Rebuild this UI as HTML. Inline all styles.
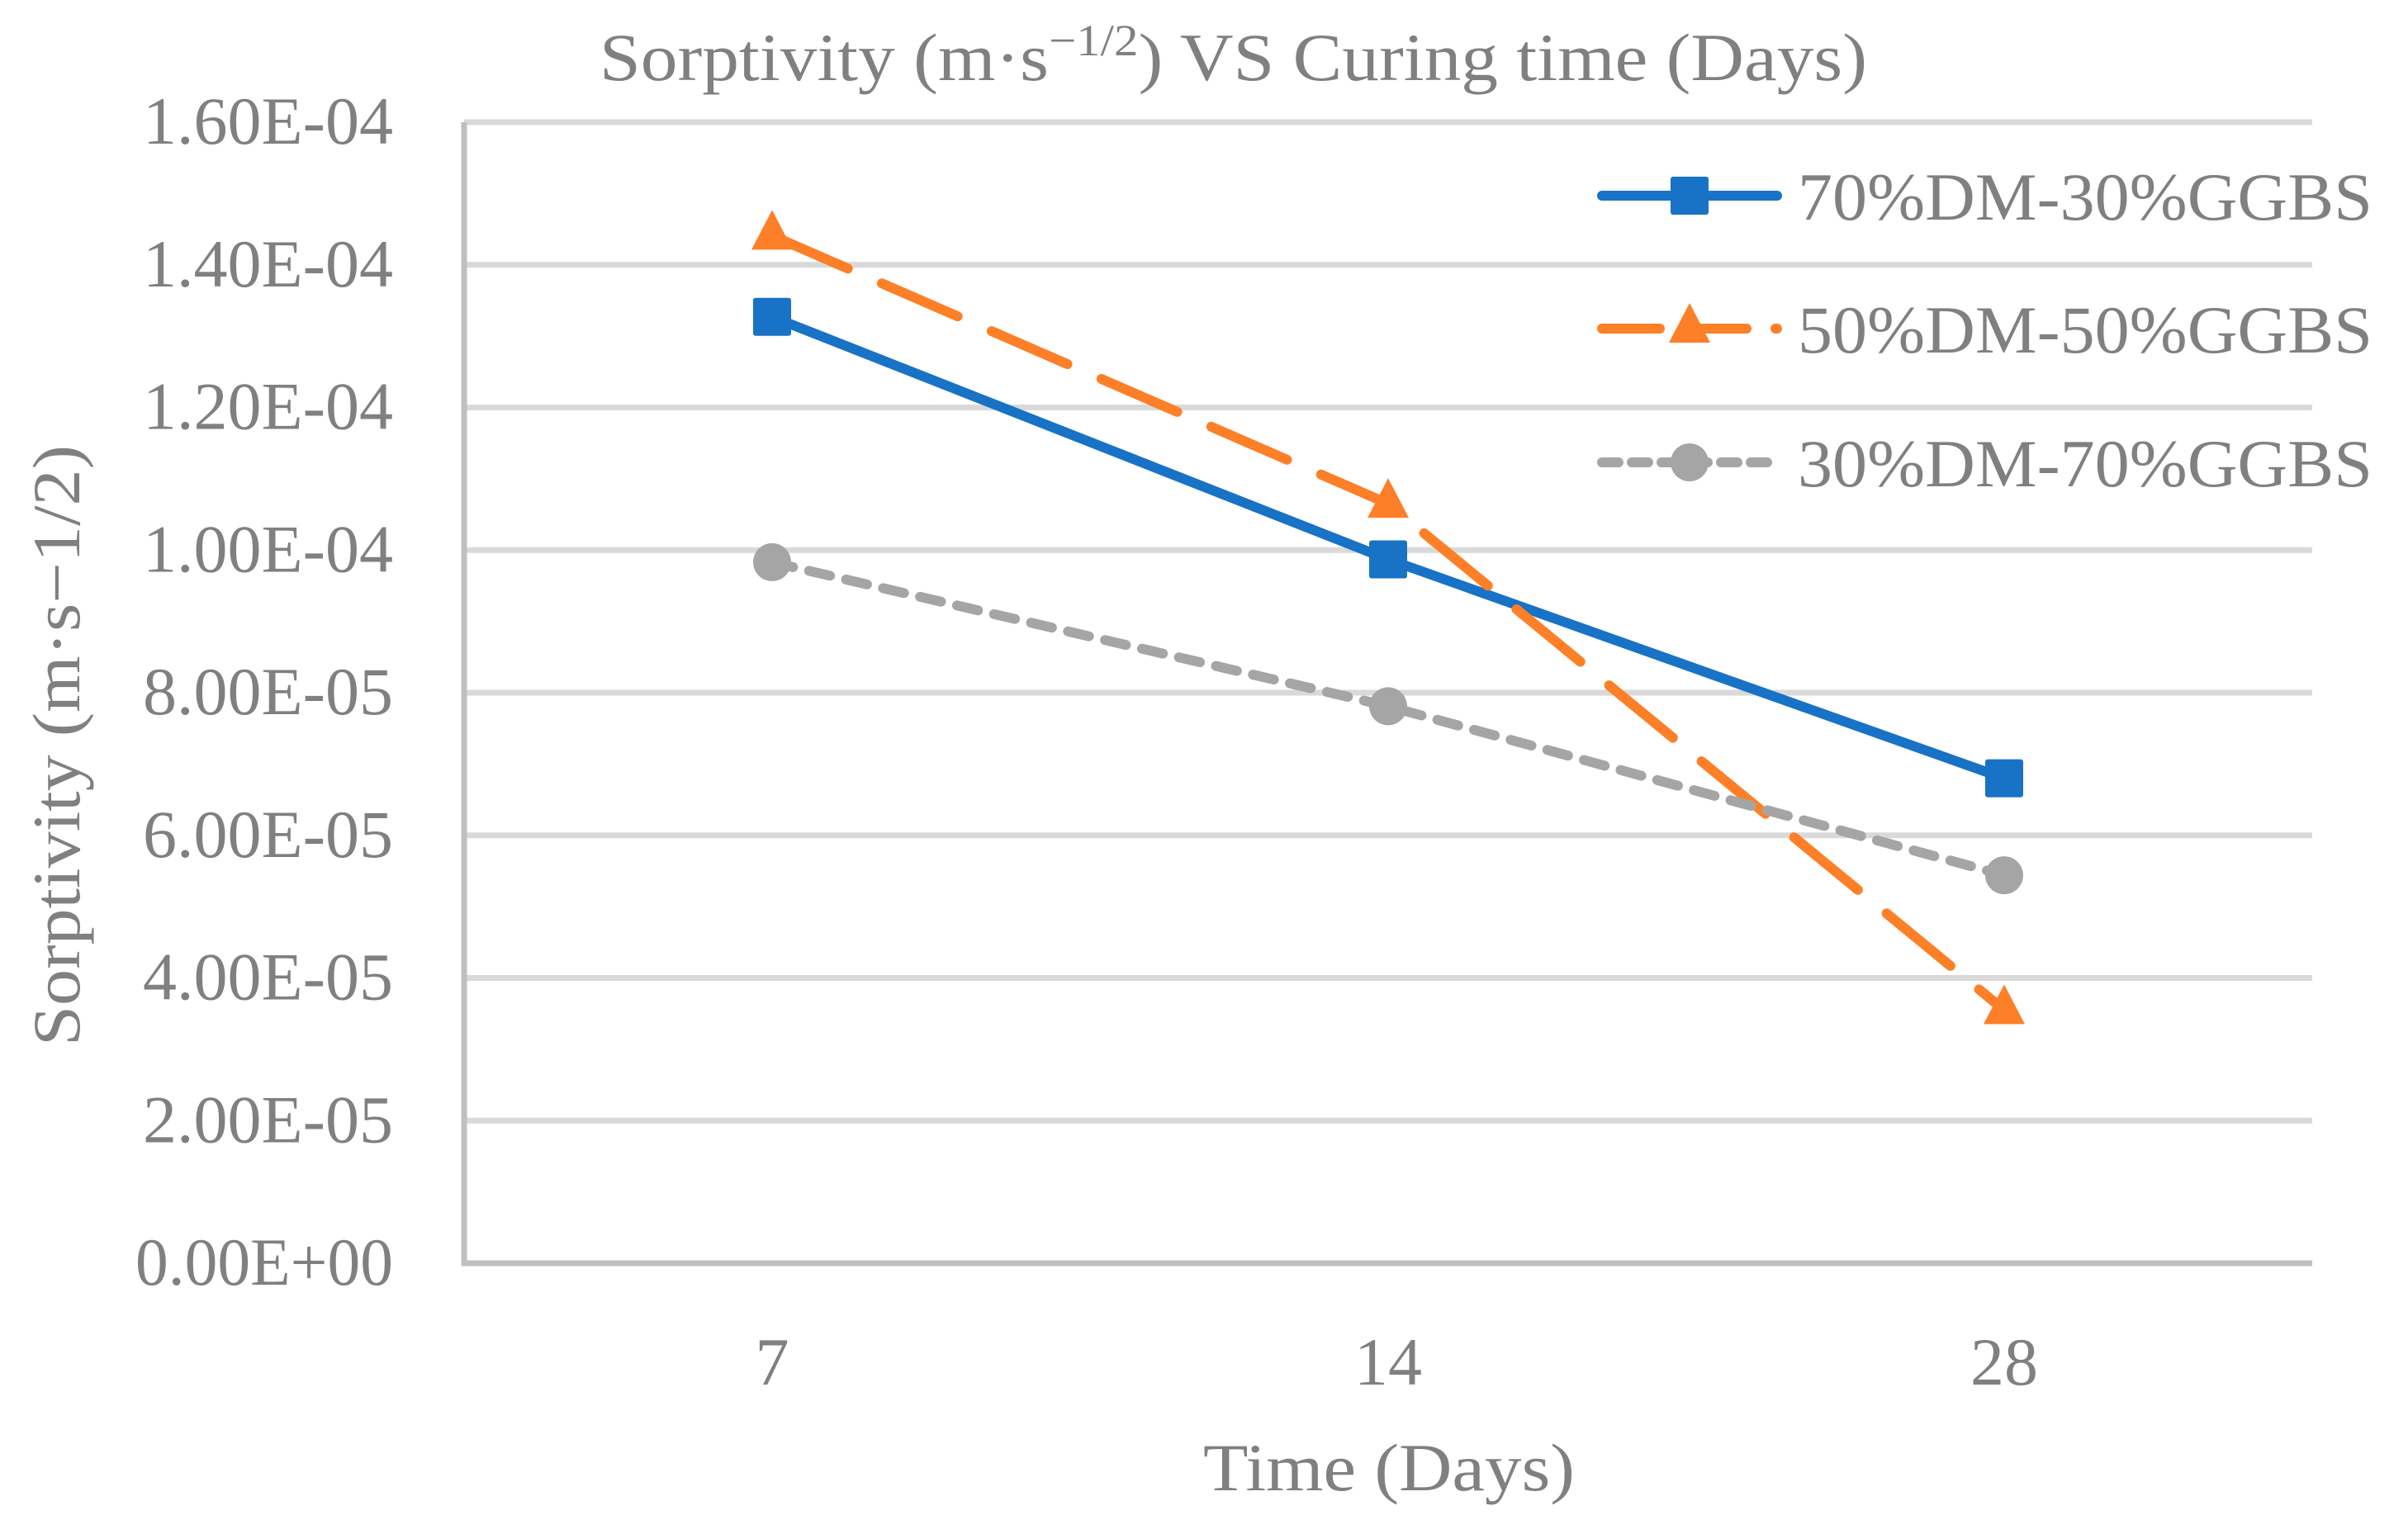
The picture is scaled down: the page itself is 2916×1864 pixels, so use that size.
<!DOCTYPE html>
<html><head><meta charset="utf-8"><style>
html,body{margin:0;padding:0;background:#fff;}
svg{display:block;font-family:"Liberation Serif",serif;}
</style></head><body>
<svg id="chart" width="2916" height="1864" viewBox="0 0 2916 1864" xmlns="http://www.w3.org/2000/svg">
<rect width="2916" height="1864" fill="#fff"/>
<text x="726" y="97" font-size="82" fill="#808080" textLength="1535" lengthAdjust="spacingAndGlyphs">Sorptivity (m·s<tspan font-size="54" dy="-30">−1/2</tspan><tspan dy="30">) VS Curing time (Days)</tspan></text>
<g id="grid"></g>
<g id="yticks"></g>
<g id="xticks"></g>
<line x1="562" y1="148" x2="562" y2="1533" stroke="#bfbfbf" stroke-width="7"/>
<line x1="559" y1="1530" x2="2800" y2="1530" stroke="#bfbfbf" stroke-width="7"/>
<g id="series"></g>
<text transform="translate(96,903) rotate(-90)" font-size="82" fill="#808080" text-anchor="middle" textLength="728" lengthAdjust="spacingAndGlyphs">Sorptivity (m·s−1/2)</text>
<text x="1682" y="1805" font-size="82" fill="#808080" text-anchor="middle" textLength="450" lengthAdjust="spacingAndGlyphs">Time (Days)</text>
<g id="legend"></g>
</svg>
<script>
const categories = ["7", "14", "28"];
const seriesNames = ["70%DM-30%GGBS", "50%DM-50%GGBS", "30%DM-70%GGBS"];
const blueValues = [1.327e-4, 0.987e-4, 0.68e-4];
const orangeValues = [1.441e-4, 1.065e-4, 0.355e-4];
const grayValues = [0.983e-4, 0.781e-4, 0.544e-4];
const yTicks = [0, 2e-5, 4e-5, 6e-5, 8e-5, 1e-4, 1.2e-4, 1.4e-4, 1.6e-4];
const yTickLabels = ["0.00E+00","2.00E-05","4.00E-05","6.00E-05","8.00E-05","1.00E-04","1.20E-04","1.40E-04","1.60E-04"];

const NS = "http://www.w3.org/2000/svg";
const L = 562, R = 2800, T = 148, B = 1530, YMAX = 1.6e-4;
function yScale(v){ return B - (v / YMAX) * (B - T); }
function xScale(i){ const w = (R - L) / categories.length; return L + w * (i + 0.5); }
function mk(tag, attrs, parent){ const e = document.createElementNS(NS, tag); for (const k in attrs) e.setAttribute(k, attrs[k]); parent.appendChild(e); return e; }

const grid = document.getElementById('grid');
const yt = document.getElementById('yticks');
yTicks.forEach((v, i) => {
  if (i > 0) {
    const g = mk('line', {x1: L, x2: R, y1: yScale(v), y2: yScale(v), stroke: '#d9d9d9', 'stroke-width': 7}, grid);
    
    
  }
  const t = mk('text', {x: 476, y: yScale(v) + 26, 'font-size': 82, fill: '#808080', 'text-anchor': 'end', textLength: i === 0 ? 312 : 303, lengthAdjust: 'spacingAndGlyphs'}, yt);
  t.textContent = yTickLabels[i];
  
  
});
const xt = document.getElementById('xticks');
categories.forEach((c, i) => {
  const t = mk('text', {x: xScale(i), y: 1677, 'font-size': 82, fill: '#808080', 'text-anchor': 'middle'}, xt);
  t.textContent = c;
  
  
});

const styles = [
  {color: '#1872c6', dash: '', marker: 'square', values: blueValues},
  {color: '#fd7f27', dash: '100 45', marker: 'triangle', values: orangeValues},
  {color: '#a5a5a5', dash: '26 20', marker: 'circle', values: grayValues}
];
function marker(type, cx, cy, color, parent){
  let m;
  if (type === 'square') m = mk('rect', {x: cx - 23, y: cy - 23, width: 46, height: 46, rx: 3, fill: color}, parent);
  else if (type === 'triangle') m = mk('polygon', {points: `${cx},${cy-31} ${cx+25},${cy+17} ${cx-25},${cy+17}`, fill: color, 'stroke-linejoin': 'round'}, parent);
  else m = mk('ellipse', {cx: cx, cy: cy, rx: 23, ry: 23, fill: color}, parent);
  return m;
}
const sg = document.getElementById('series');
styles.forEach((s, si) => {
  const pts = s.values.map((v, i) => xScale(i) + ',' + yScale(v)).join(' ');
  const pl = mk('polyline', {points: pts, fill: 'none', stroke: s.color, 'stroke-width': 12, 'stroke-linecap': 'round', 'stroke-linejoin': 'round'}, sg);
  if (s.dash) pl.setAttribute('stroke-dasharray', s.dash);
  
  
  s.values.forEach((v, i) => {
    const m = marker(s.marker, xScale(i), yScale(v), s.color, sg);
    
    
  });
});

const lg = document.getElementById('legend');
const legendY = [237, 398, 560];
styles.forEach((s, si) => {
  const y = legendY[si];
  const ln = mk('line', {x1: 1940, x2: 2152, y1: y, y2: y, stroke: s.color, 'stroke-width': 12, 'stroke-linecap': 'round'}, lg);
  if (s.dash) ln.setAttribute('stroke-dasharray', si === 1 ? '70 35' : '20 16');
  
  
  const m = marker(s.marker, 2046, y, s.color, lg);
  
  
  const t = mk('text', {x: 2177, y: y + 29, 'font-size': 82, fill: '#808080', textLength: 696, lengthAdjust: 'spacingAndGlyphs'}, lg);
  t.textContent = seriesNames[si];
  
  
});
</script>
</body></html>
